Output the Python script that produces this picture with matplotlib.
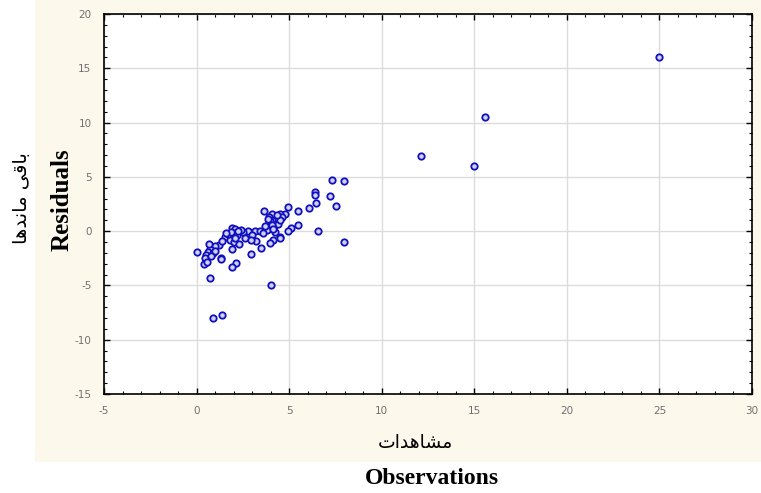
import numpy as np
import matplotlib
matplotlib.use('Agg')
import matplotlib.pyplot as plt
from matplotlib.patches import Rectangle
from matplotlib.ticker import MultipleLocator

plt.rcParams['axes.unicode_minus'] = False

# observations vs residuals
obs = [25.0, 15.6, 12.1, 15.0, 7.3, 7.95, 6.4, 6.4, 7.2, 7.55, 6.45, 6.05, 6.55, 7.95,
       4.0, 0.9, 1.35, 0.7, 0.0,
       5.5, 4.95, 4.75, 4.5, 4.6, 3.65, 4.3, 4.1, 3.9, 4.2, 4.0, 3.8, 4.4, 3.7, 4.5, 4.1,
       2.8, 3.15, 3.4, 3.6, 2.5, 1.9, 2.1, 1.95, 2.2, 1.55, 1.8, 2.0, 1.2, 1.0, 0.75,
       0.6, 0.5, 0.45, 0.4, 0.55, 0.9, 1.3, 1.9, 2.3, 2.6, 3.0, 3.2, 2.95,
       5.5, 5.1, 4.95, 4.5, 4.5, 4.15, 3.95, 3.5, 2.95, 2.15, 1.9, 1.3,
       1.7, 2.4, 1.4, 0.65, 3.9, 4.25,
       1.85, 2.05, 1.6, 2.25, 3.95, 4.05, 4.35, 3.85, 4.15, 1.0, 0.8]
resid = [16.0, 10.5, 6.9, 6.0, 4.7, 4.65, 3.6, 3.35, 3.25, 2.35, 2.55, 2.15, 0.05, -1.0,
         -4.95, -8.0, -7.7, -4.3, -1.9,
         1.9, 2.2, 1.6, 1.6, 1.3, 1.85, 1.2, 1.0, 0.8, 0.5, 0.3, 0.1, 0.7, 0.5, 1.0, 1.6,
         0.05, 0.05, 0.0, -0.2, -0.1, 0.25, 0.2, -0.2, -0.4, -0.5, -0.8, -1.0, -1.3, -1.4, -1.6,
         -1.9, -2.2, -2.5, -3.0, -2.8, -2.0, -2.5, -1.6, -1.2, -0.6, -0.4, -0.9, -0.85,
         0.55, 0.25, 0.0, -0.5, -0.65, -0.85, -1.1, -1.55, -2.1, -2.95, -3.3, -2.6,
         -0.3, 0.1, -0.9, -1.2, 1.3, -0.1,
         -0.05, -0.6, -0.15, 0.0, 0.9, 0.6, 1.45, 1.1, 0.2, -1.8, -2.3]

x_ticks = [-5, 0, 5, 10, 15, 20, 25, 30]
y_ticks = [-15, -10, -5, 0, 5, 10, 15, 20]

# Persian labels in presentation forms (visual order)
fa_obs = '\uFE95\uFE8D\uFEAA\uFEEB\uFE8E\uFEB8\uFEE3'
fa_resid = '\uFE8E\uFEEB\uFEAA\uFEE7\uFE8E\uFEE3 \uFEF0\uFED7\uFE8E\uFE91'

fig = plt.figure(figsize=(7.61, 4.93), dpi=100, facecolor='white')
bg = Rectangle((35/761, 1 - 462/493), 726/761, 462/493,
               transform=fig.transFigure, facecolor='#fdf8ec', edgecolor='none')
bg.set_zorder(-10)
fig.add_artist(bg)

ax = fig.add_axes([104/761, 1 - 394/493, 648/761, 380/493])
ax.set_zorder(1)
ax.set_facecolor('white')
ax.plot(obs, resid, 'o', ms=4.6, mfc='#d0d0f0', mec='#1010c0', mew=1.3, zorder=3)

ax.set_xlim(-5, 30)
ax.set_ylim(-15, 20)
ax.set_xticks(x_ticks)
ax.set_yticks(y_ticks)
ax.xaxis.set_minor_locator(MultipleLocator(1))
ax.yaxis.set_minor_locator(MultipleLocator(1))
ax.tick_params(which='both', direction='in', top=True, right=True,
               labelsize=7.5, labelcolor='#707070', color='black')
ax.tick_params(which='major', length=4, width=1, pad=9)
ax.tick_params(which='minor', length=2, width=0.8)
ax.grid(True, which='major', color='#dcdcdc', lw=1)
ax.set_axisbelow(True)
for s in ax.spines.values():
    s.set_linewidth(1.2)
    s.set_color('black')

fig.text(62/761, 1 - 200/493, 'Residuals', rotation=90, ha='center', va='center',
         fontsize=18, fontweight='bold', family='Liberation Serif')
fig.text(22/761, 1 - 198/493, fa_resid, rotation=90, ha='center', va='center',
         fontsize=14, family='DejaVu Sans')
fig.text(415/761, 1 - 443/493, fa_obs, ha='center', va='center',
         fontsize=13.5, family='DejaVu Sans')
fig.text(432/761, 1 - 478/493, 'Observations', ha='center', va='center',
         fontsize=17, fontweight='bold', family='Liberation Serif')

fig.savefig('out.png', dpi=100, facecolor=fig.get_facecolor())
